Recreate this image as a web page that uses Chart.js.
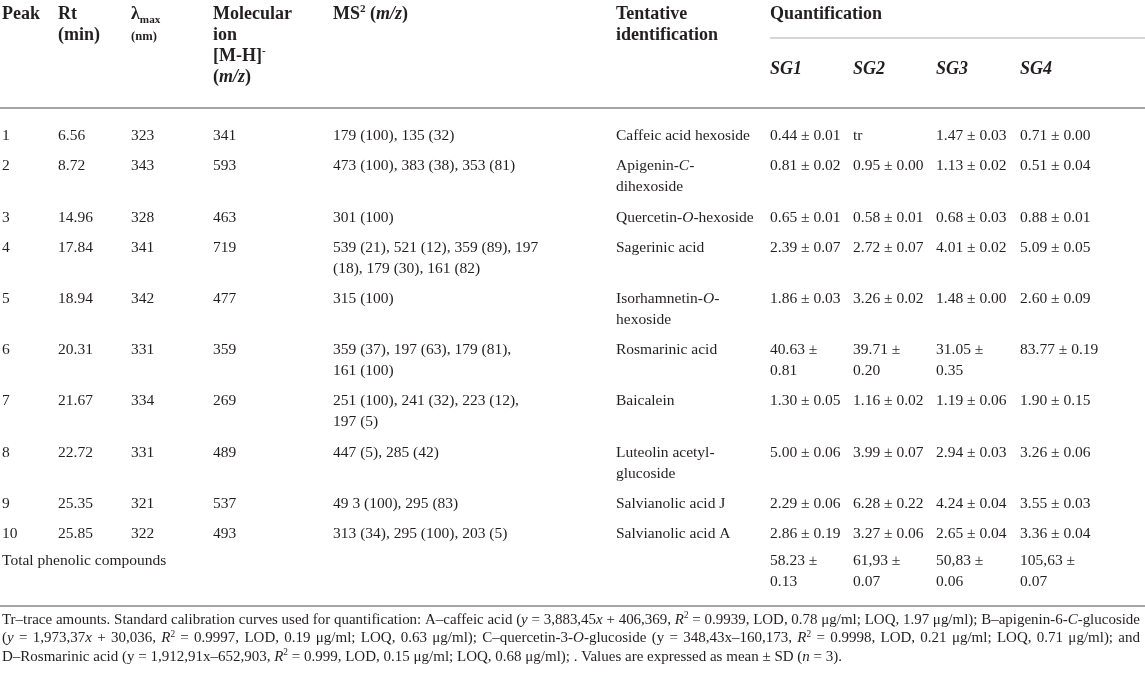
<!DOCTYPE html>
<html>
<head>
<meta charset="utf-8">
<script src="https://cdn.jsdelivr.net/npm/chart.js@4.4.1/dist/chart.umd.min.js"></script>
<style>
  html, body { margin: 0; padding: 0; background: #fff; }
  canvas { display: block; }
</style>
</head>
<body>
<canvas id="tabla" width="1145" height="676"></canvas>
<script>
// === Datos de la tabla ===
// marcas: *cursiva*  ^superíndice^  _subíndice_  ~pequeño~   \n = salto de línea
const peaks = ['1', '2', '3', '4', '5', '6', '7', '8', '9', '10'];
const rt = ['6.56', '8.72', '14.96', '17.84', '18.94', '20.31', '21.67', '22.72', '25.35', '25.85'];
const lambdaMax = ['323', '343', '328', '341', '342', '331', '334', '331', '321', '322'];
const molIon = ['341', '593', '463', '719', '477', '359', '269', '489', '537', '493'];
const ms2 = [
  '179 (100), 135 (32)',
  '473 (100), 383 (38), 353 (81)',
  '301 (100)',
  '539 (21), 521 (12), 359 (89), 197\n(18), 179 (30), 161 (82)',
  '315 (100)',
  '359 (37), 197 (63), 179 (81),\n161 (100)',
  '251 (100), 241 (32), 223 (12),\n197 (5)',
  '447 (5), 285 (42)',
  '49 3 (100), 295 (83)',
  '313 (34), 295 (100), 203 (5)'
];
const identificacion = [
  'Caffeic acid hexoside',
  'Apigenin-*C*-\ndihexoside',
  'Quercetin-*O*-hexoside',
  'Sagerinic acid',
  'Isorhamnetin-*O*-\nhexoside',
  'Rosmarinic acid',
  'Baicalein',
  'Luteolin acetyl-\nglucoside',
  'Salvianolic acid J',
  'Salvianolic acid A'
];
const sg1 = ['0.44 ± 0.01', '0.81 ± 0.02', '0.65 ± 0.01', '2.39 ± 0.07', '1.86 ± 0.03', '40.63 ±\n0.81', '1.30 ± 0.05', '5.00 ± 0.06', '2.29 ± 0.06', '2.86 ± 0.19'];
const sg2 = ['tr', '0.95 ± 0.00', '0.58 ± 0.01', '2.72 ± 0.07', '3.26 ± 0.02', '39.71 ±\n0.20', '1.16 ± 0.02', '3.99 ± 0.07', '6.28 ± 0.22', '3.27 ± 0.06'];
const sg3 = ['1.47 ± 0.03', '1.13 ± 0.02', '0.68 ± 0.03', '4.01 ± 0.02', '1.48 ± 0.00', '31.05 ±\n0.35', '1.19 ± 0.06', '2.94 ± 0.03', '4.24 ± 0.04', '2.65 ± 0.04'];
const sg4 = ['0.71 ± 0.00', '0.51 ± 0.04', '0.88 ± 0.01', '5.09 ± 0.05', '2.60 ± 0.09', '83.77 ± 0.19', '1.90 ± 0.15', '3.26 ± 0.06', '3.55 ± 0.03', '3.36 ± 0.04'];

const totalLabel = 'Total phenolic compounds';
const totales = ['58.23 ±\n0.13', '61,93 ±\n0.07', '50,83 ±\n0.06', '105,63 ±\n0.07'];

const encabezados = ['Peak', 'Rt\n(min)', 'λ_max_\n~(nm)~', 'Molecular\nion\n[M-H]^-^\n(*m/z*)', 'MS^2^ (*m/z*)', 'Tentative\nidentification'];
const grupoQuant = 'Quantification';
const grupos = ['*SG1*', '*SG2*', '*SG3*', '*SG4*'];

const notas = [
  'Tr–trace amounts. Standard calibration curves used for quantification: A–caffeic acid (*y* = 3,883,45*x* + 406,369, *R*^2^ = 0.9939, LOD, 0.78 μg/ml; LOQ, 1.97 μg/ml); B–apigenin-6-*C*-glucoside',
  '(*y* = 1,973,37*x* + 30,036, *R*^2^ = 0.9997, LOD, 0.19 μg/ml; LOQ, 0.63 μg/ml); C–quercetin-3-*O*-glucoside (y = 348,43x–160,173, *R*^2^ = 0.9998, LOD, 0.21 μg/ml; LOQ, 0.71 μg/ml); and',
  'D–Rosmarinic acid (y = 1,912,91x–652,903, *R*^2^ = 0.999, LOD, 0.15 μg/ml; LOQ, 0.68 μg/ml); . Values are expressed as mean ± SD (*n* = 3).'
];

// === Maquetación (unidades de las escalas = píxeles) ===
const ANCHO = 1145, ALTO = 676;
const FUENTE = '"Liberation Serif", "DejaVu Serif", serif';
const COLOR_TEXTO = '#231f20';
const colX = [2, 58, 131, 213, 333, 616, 770, 853, 936, 1020];
const Y_HEAD = 13, LINEA_HEAD = 21, Y_SG = 68, Y_REGLA_QUANT = 38, Y_REGLA_HEAD = 108;
const Y_FILA1 = 135, LINEA = 21, HUECO = 30.2;
const Y_NOTA1 = 619, LINEA_NOTA = 18.5;
const TAM_CUERPO = 15.5, TAM_HEAD = 18, TAM_NOTA = 15;

const columnasDatos = [peaks, rt, lambdaMax, molIon, ms2, identificacion, sg1, sg2, sg3, sg4];

// posición vertical de cada fila según cuántas líneas ocupa
const nLineas = i => Math.max(...columnasDatos.map(c => c[i].split('\n').length));
const filaY = [];
let yAcum = Y_FILA1;
for (let i = 0; i < peaks.length; i++) {
  filaY.push(yAcum);
  yAcum += (nLineas(i) - 1) * LINEA + HUECO;
}
const yTotal = yAcum - 3;
const Y_REGLA_FINAL = yTotal + LINEA + 25;

// === Texto enriquecido ===
function parsear(str) {
  const runs = [];
  let it = false, sup = false, sub = false, small = false, buf = '';
  const push = () => { if (buf) runs.push({ t: buf, it, sup, sub, small }); buf = ''; };
  for (const ch of str) {
    if (ch === '*') { push(); it = !it; }
    else if (ch === '^') { push(); sup = !sup; }
    else if (ch === '_') { push(); sub = !sub; }
    else if (ch === '~') { push(); small = !small; }
    else buf += ch;
  }
  push();
  return runs;
}

function fuenteRun(r, size, bold) {
  const s = (r.sup || r.sub) ? size * 0.62 : r.small ? size * 0.7 : size;
  return `${r.it ? 'italic ' : ''}${bold ? 'bold ' : ''}${s}px ${FUENTE}`;
}

function dibujarLinea(ctx, str, x, yc, size, bold, justificar) {
  const runs = parsear(str);
  let natural = 0, espacios = 0;
  runs.forEach(r => {
    ctx.font = fuenteRun(r, size, bold);
    r.w = ctx.measureText(r.t).width;
    natural += r.w;
    espacios += (r.t.match(/ /g) || []).length;
  });
  let extra = 0, escala = 1;
  if (justificar) {
    if (natural > justificar) escala = justificar / natural;
    else if (espacios) extra = (justificar - natural) / espacios;
  }
  const base = yc + size * 0.33;
  ctx.save();
  ctx.translate(x, 0);
  ctx.scale(escala, 1);
  let cx = 0;
  runs.forEach(r => {
    ctx.font = fuenteRun(r, size, bold);
    const dy = r.sup ? -size * 0.38 : r.sub ? size * 0.2 : 0;
    if (extra) {
      const partes = r.t.split(' ');
      partes.forEach((p, k) => {
        ctx.fillText(p, cx, base + dy);
        cx += ctx.measureText(p).width;
        if (k < partes.length - 1) cx += ctx.measureText(' ').width + extra;
      });
    } else {
      ctx.fillText(r.t, cx, base + dy);
      cx += r.w;
    }
  });
  ctx.restore();
}

// === Plugin que escribe los textos en los puntos de cada dataset ===
const textoCeldas = {
  id: 'textoCeldas',
  afterDatasetsDraw(chart) {
    const ctx = chart.ctx;
    ctx.save();
    ctx.fillStyle = COLOR_TEXTO;
    ctx.textBaseline = 'alphabetic';
    ctx.textAlign = 'left';
    chart.data.datasets.forEach((ds, d) => {
      if (!ds.textos) return;
      const meta = chart.getDatasetMeta(d);
      meta.data.forEach((pt, j) => {
        const lineas = ds.textos[j].split('\n');
        lineas.forEach((l, k) => {
          dibujarLinea(ctx, l, pt.x, pt.y + k * ds.interlinea, ds.tam, ds.negrita, ds.justificar && ds.justificar[j]);
        });
      });
    });
    ctx.restore();
  }
};

// === Datasets ===
const celdas = (x, valores, ys) => valores.map((_, i) => ({ x, y: ys[i] }));
const datasets = [];

// encabezados
datasets.push({
  type: 'scatter', data: encabezados.map((_, i) => ({ x: colX[i], y: Y_HEAD })),
  textos: encabezados, tam: TAM_HEAD, negrita: true, interlinea: LINEA_HEAD, pointRadius: 0
});
datasets.push({
  type: 'scatter', data: [{ x: colX[6], y: Y_HEAD }],
  textos: [grupoQuant], tam: TAM_HEAD, negrita: true, interlinea: LINEA_HEAD, pointRadius: 0
});
datasets.push({
  type: 'scatter', data: grupos.map((_, i) => ({ x: colX[6 + i], y: Y_SG })),
  textos: grupos, tam: TAM_HEAD, negrita: true, interlinea: LINEA_HEAD, pointRadius: 0
});

// cuerpo
columnasDatos.forEach((col, c) => {
  datasets.push({
    type: 'scatter', data: celdas(colX[c], col, filaY),
    textos: col, tam: TAM_CUERPO, negrita: false, interlinea: LINEA, pointRadius: 0
  });
});

// fila de totales
datasets.push({
  type: 'scatter', data: [{ x: colX[0], y: yTotal }].concat(totales.map((_, i) => ({ x: colX[6 + i], y: yTotal }))),
  textos: [totalLabel].concat(totales), tam: TAM_CUERPO, negrita: false, interlinea: LINEA, pointRadius: 0
});

// notas al pie
datasets.push({
  type: 'scatter', data: notas.map((_, i) => ({ x: 2, y: Y_NOTA1 + i * LINEA_NOTA })),
  textos: notas, tam: TAM_NOTA, negrita: false, interlinea: LINEA_NOTA, pointRadius: 0,
  justificar: [1138, 1138, null]
});

// reglas horizontales
const regla = (x0, x1, y, color, grosor) => ({
  type: 'line', data: [{ x: x0, y }, { x: x1, y }],
  borderColor: color, borderWidth: grosor, pointRadius: 0, fill: false
});
datasets.push(regla(colX[6], ANCHO, Y_REGLA_QUANT, '#c9c9c9', 1.5));
datasets.push(regla(0, ANCHO, Y_REGLA_HEAD, '#a6a6a6', 2));
datasets.push(regla(0, ANCHO, Y_REGLA_FINAL, '#a6a6a6', 2));

new Chart(document.getElementById('tabla'), {
  type: 'scatter',
  data: { datasets },
  options: {
    responsive: false,
    animation: false,
    events: [],
    layout: { padding: 0 },
    scales: {
      x: { type: 'linear', min: 0, max: ANCHO, display: false },
      y: { type: 'linear', min: 0, max: ALTO, reverse: true, display: false }
    },
    plugins: { legend: { display: false }, tooltip: { enabled: false } }
  },
  plugins: [textoCeldas]
});
</script>
</body>
</html>
